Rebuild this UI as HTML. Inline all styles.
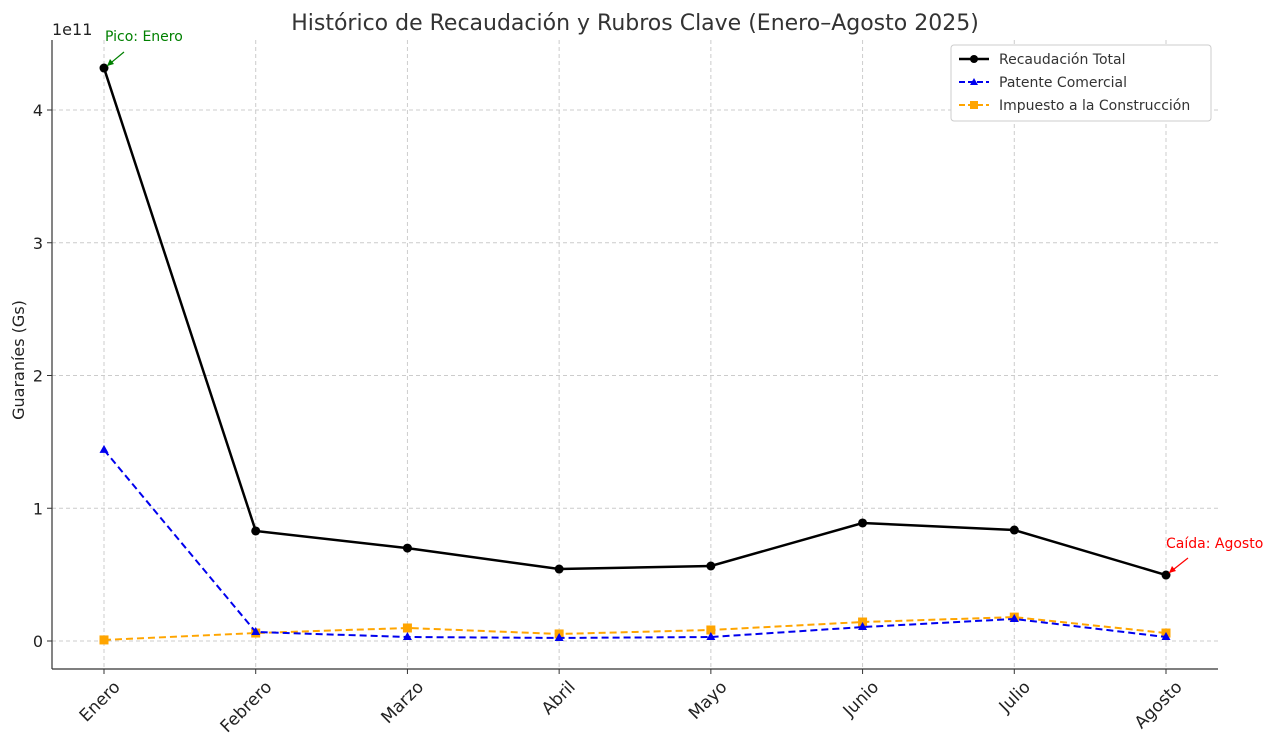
<!DOCTYPE html>
<html><head><meta charset="utf-8"><style>
body{margin:0;background:#fff;font-family:"Liberation Sans","DejaVu Sans",sans-serif}
svg text{font-family:"DejaVu Sans","Liberation Sans",sans-serif}
</style></head><body>
<svg id="chart" width="1280" height="746" xmlns="http://www.w3.org/2000/svg">
<text x="635" y="30" font-size="22" text-anchor="middle" fill="#333">Histórico de Recaudación y Rubros Clave (Enero–Agosto 2025)</text>
<g id="grid"></g>
<g id="axes"></g>
<g id="series"></g>
<g id="legend" transform="translate(951,45)">
<rect x="0" y="0" width="260" height="76" rx="3" fill="#fff" stroke="#ccc"/>
<g><line x1="8" y1="14" x2="38" y2="14" stroke="#000" stroke-width="2.5"/><circle cx="23" cy="14" r="4" fill="#000"/><text x="48" y="19" font-size="14" fill="#333">Recaudación Total</text></g>
<g><line x1="8" y1="37" x2="38" y2="37" stroke="#0000ee" stroke-width="2" stroke-dasharray="6,3"/><path d="M23 33 L27 40 L19 40Z" fill="#0000ee"/><text x="48" y="42" font-size="14" fill="#333">Patente Comercial</text></g>
<g><line x1="8" y1="60" x2="38" y2="60" stroke="#ffa500" stroke-width="2" stroke-dasharray="6,3"/><rect x="19" y="56" width="8" height="8" fill="#ffa500"/><text x="48" y="65" font-size="14" fill="#333">Impuesto a la Construcción</text></g>
</g>
</svg>
<script>
const categories=["Enero","Febrero","Marzo","Abril","Mayo","Junio","Julio","Agosto"];
const total=[4.316,0.829,0.70,0.542,0.565,0.889,0.836,0.497];
const patente=[1.44,0.068,0.03,0.023,0.03,0.105,0.166,0.03];
const construccion=[0.008,0.06,0.098,0.053,0.083,0.143,0.18,0.06];
const yTicks=[0,1,2,3,4];
const NS="http://www.w3.org/2000/svg";
const L=52,R=1218,T=40,B=669;
const x=i=>104+i*(1166-104)/(categories.length-1);
const y=v=>641-v*132.75;
function mk(t,a,p){const e=document.createElementNS(NS,t);for(const k in a)e.setAttribute(k,a[k]);p.appendChild(e);return e;}
const grid=document.getElementById('grid'),axes=document.getElementById('axes'),ser=document.getElementById('series');
yTicks.forEach(v=>{
 const g=mk('line',{x1:L,x2:R,y1:y(v),y2:y(v),stroke:'#ccc','stroke-dasharray':'4,3'},grid);
 
 
 mk('line',{x1:L-5,x2:L,y1:y(v),y2:y(v),stroke:'#333'},axes);
 const t=mk('text',{x:L-9,y:y(v)+6,'font-size':16,'text-anchor':'end',fill:'#222'},axes);t.textContent=v;
 
 
});
categories.forEach((c,i)=>{
 const g=mk('line',{x1:x(i),x2:x(i),y1:T,y2:B,stroke:'#ccc','stroke-dasharray':'4,3'},grid);
 
 
 mk('line',{x1:x(i),x2:x(i),y1:B,y2:B+5,stroke:'#333'},axes);
 const t=mk('text',{x:x(i)+17,y:B+19,'font-size':17,'text-anchor':'end',fill:'#222',transform:`rotate(-45 ${x(i)+17} ${B+19})`},axes);t.textContent=c;
 
 
});
mk('line',{x1:L,x2:L,y1:T,y2:B,stroke:'#333','stroke-width':1.2},axes);
mk('line',{x1:L,x2:R,y1:B,y2:B,stroke:'#333','stroke-width':1.2},axes);
let t=mk('text',{x:52,y:35,'font-size':16,fill:'#222'},axes);t.textContent='1e11';


t=mk('text',{x:24,y:360,'font-size':16,'text-anchor':'middle',fill:'#222',transform:'rotate(-90 24 360)'},axes);t.textContent='Guaraníes (Gs)';


function line(vals,color,w,dash,marker,name){
 const g=mk('g',{},ser);
 
 
 mk('polyline',{points:vals.map((v,i)=>x(i)+','+y(v)).join(' '),fill:'none',stroke:color,'stroke-width':w,'stroke-dasharray':dash},g);
 vals.forEach((v,i)=>{let m;
  if(marker==='c')m=mk('circle',{cx:x(i),cy:y(v),r:4.5,fill:color},g);
  else if(marker==='t')m=mk('path',{d:`M${x(i)} ${y(v)-5}L${x(i)+4.5} ${y(v)+3}L${x(i)-4.5} ${y(v)+3}Z`,fill:color},g);
  else m=mk('rect',{x:x(i)-4.5,y:y(v)-4.5,width:9,height:9,fill:color},g);
  
  
 });
}
line(construccion,'#ffa500',2,'7,4','s','series-construccion');
line(patente,'#0000ee',2,'7,4','t','series-patente');
line(total,'#000',2.5,'none','c','series-total');
let a=mk('g',{},ser);


mk('line',{x1:124,y1:52,x2:x(0)+3,y2:y(total[0])-2,stroke:'green','stroke-width':1.2},a);
mk('path',{d:`M${x(0)+3} ${y(total[0])-2} l3 -7 l4 5z`,fill:'green'},a);
t=mk('text',{x:105,y:41,'font-size':14,fill:'green'},a);t.textContent='Pico: Enero';
a=mk('g',{},ser);


mk('line',{x1:1188,y1:558,x2:x(7)+3,y2:y(total[7])-2,stroke:'red','stroke-width':1.2},a);
mk('path',{d:`M${x(7)+3} ${y(total[7])-2} l3 -7 l4 5z`,fill:'red'},a);
t=mk('text',{x:1166,y:548,'font-size':14,fill:'red'},a);t.textContent='Caída: Agosto';
</script>
</body></html>
